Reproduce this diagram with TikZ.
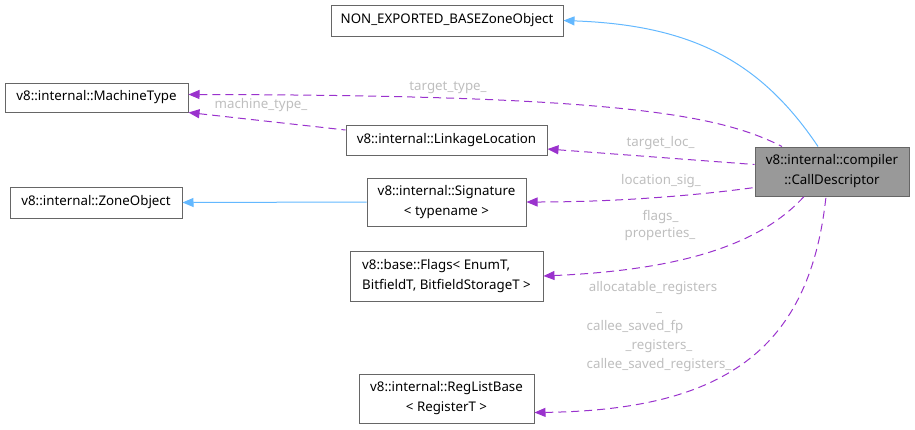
\documentclass[tikz,border=0pt]{standalone}
\usepackage{fontspec}
\setmainfont{Noto Sans}
\usetikzlibrary{arrows.meta}
\definecolor{EdgeBlue}{RGB}{99,184,255}
\definecolor{EdgePurple}{RGB}{154,50,205}
\definecolor{LabelGray}{RGB}{190,190,190}
\definecolor{BoxGray}{RGB}{102,102,102}

\begin{document}
\begin{tikzpicture}[x=1pt,y=-1pt,font=\fontsize{13.3}{20}\selectfont,>={Triangle[length=11pt,width=9pt]},
box/.style={draw=BoxGray,line width=1pt,fill=white,inner sep=0pt,align=center},
inh/.style={<-,EdgeBlue,line width=1pt},
use/.style={<-,EdgePurple,line width=1pt,dash pattern=on 8pt off 5pt},
lbl/.style={text=LabelGray,inner sep=0pt,text height=9.5pt,text depth=3pt}]
\useasboundingbox (0,0) rectangle (915,429);
\node[box,minimum width=232pt,minimum height=31pt] (ne) at (447,20.5){NON\_EXPORTED\_BASEZoneObject};
\node[box,minimum width=183pt,minimum height=29pt] (mt) at (96.5,97.5){v8::internal::MachineType};
\node[box,minimum width=201pt,minimum height=30pt] (ll) at (446.5,140){v8::internal::LinkageLocation};
\node[box,minimum width=154pt,minimum height=49pt,fill=black!40] (cd) at (832,171.5){v8::internal::compiler\\::CallDescriptor};
\node[box,minimum width=172pt,minimum height=31pt] (zo) at (96,202.5){v8::internal::ZoneObject};
\node[box,minimum width=159pt,minimum height=48pt] (sg) at (446.5,202){v8::internal::Signature\\\textless{} typename \textgreater};
\node[box,minimum width=193pt,minimum height=50pt,align=left] (fl) at (446.5,276){v8::base::Flags\textless{} EnumT,\\ BitfieldT, BitfieldStorageT \textgreater};
\node[box,minimum width=175pt,minimum height=49pt] (rl) at (446.5,398.5){v8::internal::RegListBase\\\textless{} RegisterT \textgreater};

\draw[inh] (ne.east) .. controls (690,25) and (760,60) .. ([xshift=-14pt]cd.north);
\draw[inh] (zo.east) -- (sg.west);
\draw[use] ([yshift=3pt]mt.east) .. controls (620,95) and (720,115) .. ([xshift=-50pt]cd.north);
\draw[use] (mt.south east) -- ([yshift=10pt]ll.west);
\draw[use] ([yshift=-9pt]ll.east) -- ([yshift=7pt]cd.west);
\draw[use] (sg.east) .. controls (620,202) and (700,195) .. ([yshift=-16pt]cd.west);
\draw[use] (fl.east) .. controls (680,270) and (760,245) .. ([xshift=-28pt]cd.south);
\draw[use] ([yshift=-14pt]rl.east) .. controls (730,410) and (810,345) .. ([xshift=-6pt]cd.south);

\node[lbl] (l1) at (448,87.5){target\_type\_};
\node[lbl] (l2) at (261,105){machine\_type\_};
\node[lbl] (l3) at (660.5,143){target\_loc\_};
\node[lbl] (l4) at (661,181.3){location\_sig\_};
\node[lbl] (l5) at (660.5,217.7){flags\_};
\node[lbl] (l6) at (660,234.7){properties\_};
\node[lbl] (l7) at (653,288.7){allocatable\_registers};
\node[lbl] (l8) at (659,308){\_};
\node[lbl] (l9) at (635,327.7){callee\_saved\_fp};
\node[lbl] (l10) at (659,346.3){\_registers\_};
\node[lbl] (l11) at (659,365.3){callee\_saved\_registers\_};
\end{tikzpicture}
\end{document}
